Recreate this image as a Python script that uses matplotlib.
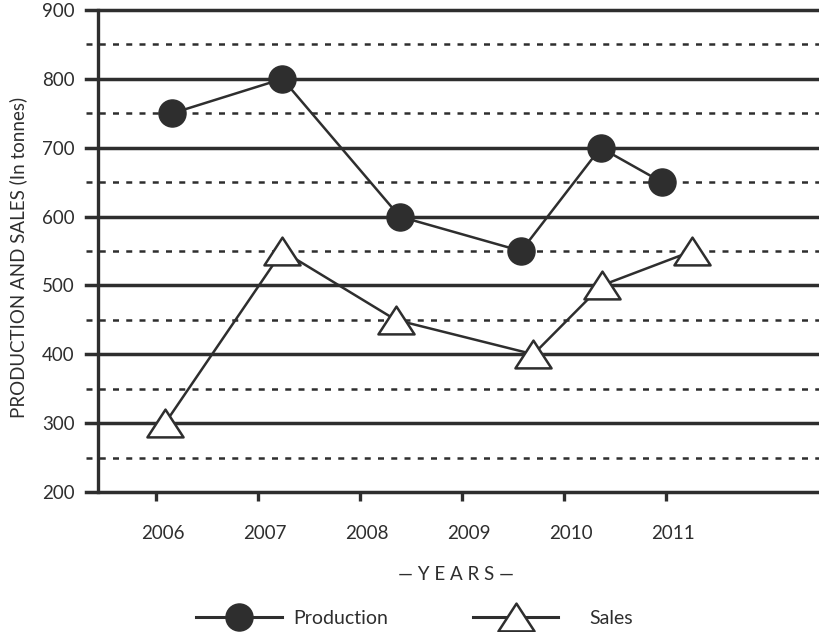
import matplotlib
matplotlib.use("Agg")
import matplotlib.pyplot as plt
import matplotlib.transforms as mtransforms
from matplotlib.lines import Line2D
from matplotlib.path import Path

plt.rcParams["font.family"] = ["Lato", "DejaVu Sans"]

INK = "#2e2e2e"

years = [2006, 2007, 2008, 2009, 2010, 2011]
# points are drawn a little off the year ticks in the original
production_x = [2006.16, 2007.24, 2008.39, 2009.58, 2010.36, 2010.96]
production = [750, 800, 600, 550, 700, 650]
sales_x = [2006.09, 2007.24, 2008.35, 2009.70, 2010.37, 2011.26]
sales = [300, 550, 450, 400, 500, 550]
solid_levels = [200, 300, 400, 500, 600, 700, 800, 900]
dotted_levels = [250, 350, 450, 550, 650, 750, 850]

fig = plt.figure(figsize=(8.2, 6.32), dpi=100)
ax = fig.add_axes([86 / 820, 1 - 492 / 632, 1 - 86 / 820, 482 / 632])

ax.set_xlim(2005.314, 2012.51)
ax.set_ylim(200, 900)

for lv in solid_levels:
    ax.axhline(lv, color=INK, lw=2.5, zorder=1, clip_on=False)
for lv in dotted_levels:
    ax.axhline(lv, color=INK, lw=1.8, ls=(0, (2.4, 2.9)), zorder=1, clip_on=False)
ax.axvline(2005.431, color=INK, lw=2.4, zorder=1, clip_on=False)

# wide, closed triangle like the original
tri = Path([(0, 1), (-1.3, -1), (1.3, -1), (0, 1)], closed=True)
ax.plot(production_x, production, color=INK, lw=1.8, marker="o", ms=19.5,
        mfc=INK, mec=INK, zorder=3, clip_on=False)
ax.plot(sales_x, sales, color=INK, lw=1.8, marker=tri, ms=26, mfc="white",
        mec=INK, mew=1.8, zorder=3, clip_on=False)

for s in ax.spines.values():
    s.set_visible(False)

ax.set_yticks(solid_levels)
ax.tick_params(axis="y", length=0, pad=8, labelsize=13.5, labelcolor=INK)
ax.set_xticks(years)
ax.set_xticklabels([str(y) for y in years])
ax.tick_params(axis="x", length=6.5, width=2.4, color=INK, pad=17,
               labelsize=13.5, labelcolor=INK)
shift = mtransforms.ScaledTranslation(7 / 100, 0, fig.dpi_scale_trans)
for lab in ax.get_xticklabels():
    lab.set_transform(lab.get_transform() + shift)

fig.text(18 / 820, 1 - 257 / 632, "PRODUCTION AND SALES (In tonnes)",
         rotation=90, ha="center", va="center", fontsize=13.5, color=INK)
fig.text(456 / 820, 1 - 575 / 632, "\u2014 Y E A R S \u2014",
         ha="center", va="center", fontsize=13.5, color=INK)

h_prod = Line2D([], [], color=INK, lw=2.2, marker="o", ms=19.5, mfc=INK, mec=INK)
h_sales = Line2D([], [], color=INK, lw=2.2, marker=tri, ms=26, mfc="white",
                 mec=INK, mew=1.8)
leg1 = fig.legend([h_prod], ["Production"], loc="center", frameon=False,
                  bbox_to_anchor=(292 / 820, 1 - 618 / 632), fontsize=14,
                  handlelength=4.4, handletextpad=0.6, labelcolor=INK)
leg2 = fig.legend([h_sales], ["Sales"], loc="center", frameon=False,
                  bbox_to_anchor=(553 / 820, 1 - 618 / 632), fontsize=14,
                  handlelength=4.4, handletextpad=1.6, labelcolor=INK)

fig.savefig("out.png", dpi=100)
